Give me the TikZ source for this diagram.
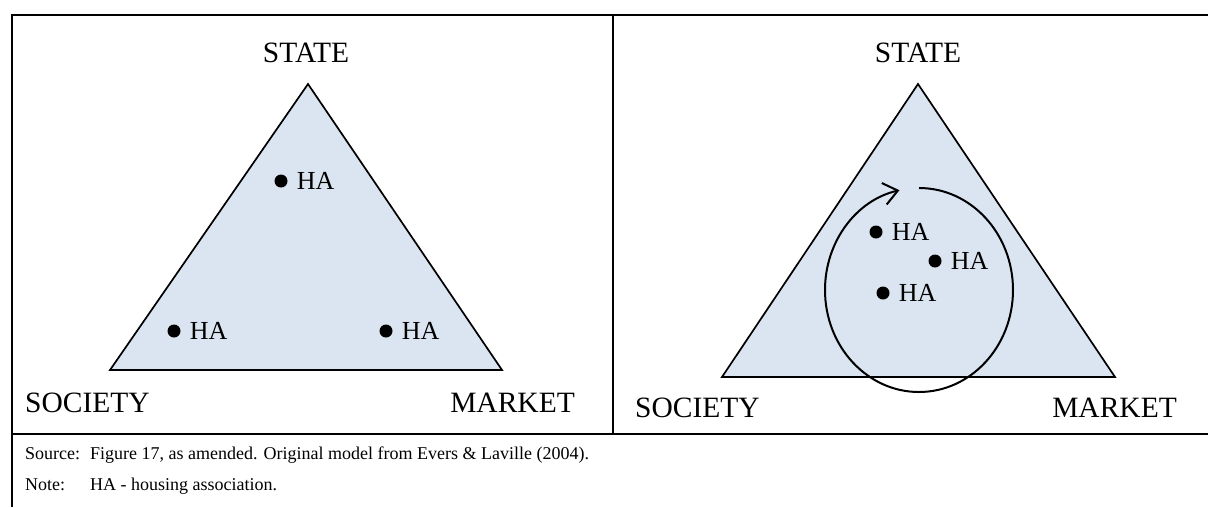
\documentclass[tikz,border=0pt]{standalone}
\usepackage{fontspec}
\setmainfont{Liberation Serif}
\usetikzlibrary{arrows.meta,positioning}
\definecolor{triblue}{HTML}{DBE5F1}
\tikzset{
  corner/.style={font=\fontsize{29.5}{32}\selectfont, anchor=base, inner sep=0pt},
  hadot/.style={circle, fill=black, inner sep=0pt, minimum size=13pt},
  halabel/.style={font=\fontsize{26}{30}\selectfont, inner sep=0pt},
  tri/.style={draw=black, line width=1.7pt, fill=triblue, line join=miter},
  rule/.style={line width=2.6pt},
  foot/.style={font=\fontsize{18}{22}\selectfont, anchor=base west, inner sep=0pt}
}

\begin{document}
\begin{tikzpicture}[x=1pt, y=-1pt]
\useasboundingbox (0,0) rectangle (1208,507);
% table rules
\draw[rule] (12,507) -- (12,15) -- (1208,15);
\draw[rule] (613,15) -- (613,434);
\draw[rule] (12,434) -- (1208,434);

% left triangle
\coordinate (lstate) at (308,84);
\coordinate (lsoc) at (110,370);
\coordinate (lmkt) at (502,370);
\draw[tri] (lstate) -- (lsoc) -- (lmkt) -- cycle;
\node[corner] (lstatelbl) at (306,62) {STATE};
\node[corner, anchor=base west] (lsoclbl) at (25,412) {SOCIETY};
\node[corner, anchor=base east] (lmktlbl) at (575,412) {MARKET};

\node[hadot] (la) at (281,181) {};
\node[hadot] (lb) at (174,331) {};
\node[hadot] (lc) at (386,331) {};
\node[halabel, right=9pt of la] (lalbl) {HA};
\node[halabel, right=9pt of lb] (lblbl) {HA};
\node[halabel, right=9pt of lc] (lclbl) {HA};

% right triangle
\coordinate (rstate) at (918,84);
\coordinate (rsoc) at (722,377);
\coordinate (rmkt) at (1115,377);
\draw[tri] (rstate) -- (rsoc) -- (rmkt) -- cycle;
\node[corner] (rstatelbl) at (918,62) {STATE};
\node[corner, anchor=base west] (rsoclbl) at (635,417) {SOCIETY};
\node[corner, anchor=base east] (rmktlbl) at (1177,417) {MARKET};

\coordinate (cyctop) at (919,188);
\draw[line width=2pt, -{Straight Barb[length=14pt,width=22pt,line width=2pt]}]
  (cyctop) arc[start angle=90, end angle=-258, x radius=94pt, y radius=102pt];

\node[hadot] (ra) at (876,232) {};
\node[hadot] (rb) at (935,261) {};
\node[hadot] (rc) at (883,293) {};
\node[halabel, right=9pt of ra] (ralbl) {HA};
\node[halabel, right=9pt of rb] (rblbl) {HA};
\node[halabel, right=9pt of rc] (rclbl) {HA};

% footer
\node[foot] (srchead) at (25,459) {Source:};
\node[foot] (srctext) at (90,459) {Figure 17, as amended. Original model from Evers \& Laville (2004).};
\node[foot] (notehead) at (25,490) {Note:};
\node[foot] (notetext) at (90,490) {HA - housing association.};
\end{tikzpicture}
\end{document}
